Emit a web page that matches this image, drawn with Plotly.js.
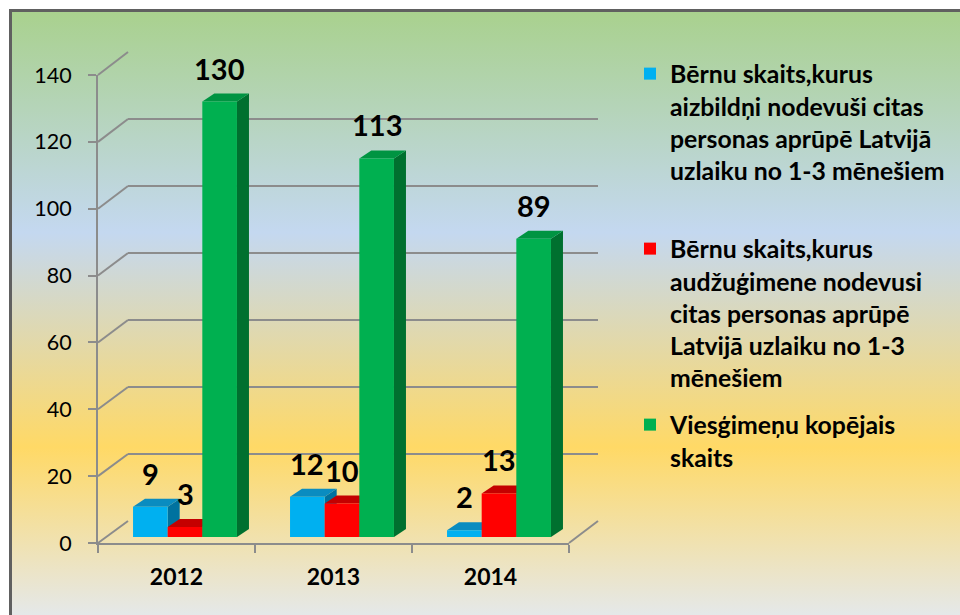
<!DOCTYPE html>
<html><head><meta charset="utf-8">
<script src="https://cdn.plot.ly/plotly-3.0.1.min.js"></script>
<style>
html,body{margin:0;padding:0;background:#fff;}
#wrap{position:relative;width:960px;height:615px;overflow:hidden;}
#bg{position:absolute;left:9px;top:9px;right:-10px;bottom:-10px;border-left:3px solid #606060;border-top:3px solid #606060;
background:linear-gradient(to bottom,#a9d18e 0%,#c4d8f0 36%,#ffd966 71%,#e3e9f1 100%);}
#chart{position:absolute;left:0;top:0;width:960px;height:615px;}
</style></head>
<body><div id="wrap"><div id="bg"></div><div id="chart"></div></div>
<script>
// ---- data ----
const categories = ['2012', '2013', '2014'];
const aizbildni = [9, 12, 2];
const audzugimene = [3, 10, 13];
const viesgimenes = [130, 113, 89];
const yTickVals = [0, 20, 40, 60, 80, 100, 120, 140];
const seriesNames = [
  'Bērnu skaits,kurus<br>aizbildņi nodevuši citas<br>personas aprūpē Latvijā<br>uzlaiku no 1-3 mēnešiem',
  'Bērnu skaits,kurus<br>audžuģimene nodevusi<br>citas personas aprūpē<br>Latvijā uzlaiku no 1-3<br>mēnešiem',
  'Viesģimeņu kopējais<br>skaits'
];

// ---- styling / geometry ----
const W = 960, H = 615;
const fx = p => p / W, fy = p => 1 - p / H;
const front = {x0: 98, x1: 569, y0: 543, y1: 75};
const back = {x0: 128, x1: 598, y0: 521, y1: 52};
const barBox = {x0: 106.5, x1: 577.5, y0: 537, y1: 68};
const yMax = 140;
const frontColors = ['#00b0f0', '#ff0000', '#00b050'];
const topColors = ['#0a8cc0', '#c40000', '#009442'];
const sideColors = ['#00729f', '#a00000', '#00702f'];
const gridColor = '#8c8c8c';
const bargap = 0.338;
const depthPx = {dx: 12, dy: 8};

const series = [aizbildni, audzugimene, viesgimenes];
const idx = categories.map((_, i) => i);
const legends = ['legend', 'legend2', 'legend3'];

const traces = series.map((vals, k) => ({
  type: 'bar', x: idx, y: vals, name: seriesNames[k],
  xaxis: 'x3', yaxis: 'y3', legend: legends[k],
  marker: {color: frontColors[k], line: {width: 0}},
  hoverinfo: 'skip'
}));
// invisible helpers so the back wall and front axes subplots exist
traces.unshift({type: 'scatter', x: categories, y: viesgimenes, xaxis: 'x2', yaxis: 'y2',
  mode: 'markers', marker: {opacity: 0}, showlegend: false, hoverinfo: 'skip'});
traces.unshift({type: 'scatter', x: idx, y: viesgimenes, xaxis: 'x', yaxis: 'y',
  mode: 'markers', marker: {opacity: 0}, showlegend: false, hoverinfo: 'skip'});

const w = (1 - bargap) / series.length;
const pxPerX = (barBox.x1 - barBox.x0) / categories.length;
const pxPerY = (barBox.y0 - barBox.y1) / yMax;
const dxU = depthPx.dx / pxPerX, dyU = depthPx.dy / pxPerY;

const shapes = [];
idx.forEach(i => {
  series.forEach((vals, k) => {
    const v = vals[i];
    const xl = i + (k - series.length / 2) * w;
    const xr = xl + w;
    shapes.push({type: 'path', xref: 'x3', yref: 'y3', layer: 'between',
      path: `M${xr},0 L${xr},${v} L${xr + dxU},${v + dyU} L${xr + dxU},${dyU} Z`,
      fillcolor: sideColors[k], line: {width: 0}});
    shapes.push({type: 'path', xref: 'x3', yref: 'y3', layer: 'between',
      path: `M${xl},${v} L${xr},${v} L${xr + dxU},${v + dyU} L${xl + dxU},${v + dyU} Z`,
      fillcolor: topColors[k], line: {width: 0}});
  });
});
// side-wall / floor diagonals joining front axis ticks to back wall gridlines
const fY = v => front.y0 - (front.y0 - front.y1) * v / yMax;
const bY = v => back.y0 - (back.y0 - back.y1) * v / yMax;
yTickVals.forEach(v => {
  shapes.push({type: 'line', xref: 'paper', yref: 'paper',
    x0: fx(front.x0), y0: fy(fY(v)), x1: fx(back.x0), y1: fy(bY(v)),
    line: {color: gridColor, width: 2}});
});
shapes.push({type: 'line', xref: 'paper', yref: 'paper',
  x0: fx(front.x1), y0: fy(front.y0), x1: fx(back.x1), y1: fy(back.y0),
  line: {color: gridColor, width: 2}});

const annotations = [];
series.forEach((vals, k) => {
  vals.forEach((v, i) => {
    annotations.push({x: i + (k - (series.length - 1) / 2) * w, y: v, xref: 'x3', yref: 'y3',
      text: String(v), showarrow: false, yanchor: 'bottom', xanchor: 'center', yshift: 14,
      font: {family: 'Lato', size: 29, color: '#000', weight: 700}});
  });
});

const legendBase = {xanchor: 'left', yanchor: 'top', valign: 'top', bgcolor: 'rgba(0,0,0,0)',
  borderwidth: 0, font: {family: 'Lato', size: 24.8, color: '#000', weight: 700}, itemclick: false, itemdoubleclick: false};

const layout = {
  width: W, height: H, margin: {l: 0, r: 0, t: 0, b: 0},
  paper_bgcolor: 'rgba(0,0,0,0)', plot_bgcolor: 'rgba(0,0,0,0)',
  font: {family: 'Lato', color: '#000'},
  hovermode: false, barmode: 'group', bargap: bargap, bargroupgap: 0,
  xaxis: {domain: [fx(back.x0), fx(back.x1)], range: [-0.5, 2.5], anchor: 'y',
    showgrid: false, zeroline: false, showline: false, showticklabels: false, ticks: ''},
  yaxis: {domain: [fy(back.y0), fy(back.y1)], range: [0, yMax], anchor: 'x',
    tickvals: yTickVals, showgrid: true, gridcolor: gridColor, gridwidth: 2,
    zeroline: false, showline: false, showticklabels: false, ticks: ''},
  xaxis2: {domain: [fx(front.x0), fx(front.x1)], anchor: 'y2', type: 'category',
    categoryorder: 'array', categoryarray: categories, range: [-0.5, 2.5],
    showline: true, linecolor: gridColor, linewidth: 2, ticks: 'outside', tickson: 'boundaries',
    ticklen: 8, tickwidth: 2, tickcolor: gridColor, showgrid: false, zeroline: false,
    tickfont: {family: 'Lato', size: 23, color: '#000', weight: 700}, ticklabelstandoff: 12},
  yaxis2: {domain: [fy(front.y0), fy(front.y1)], anchor: 'x2', range: [0, yMax],
    tickvals: yTickVals, showline: true, linecolor: gridColor, linewidth: 2, ticks: 'outside',
    ticklen: 8, tickwidth: 2, tickcolor: gridColor, showgrid: false, zeroline: false,
    tickfont: {family: 'Lato', size: 21.5, color: '#000'}, ticklabelstandoff: 12},
  xaxis3: {domain: [fx(barBox.x0), fx(barBox.x1)], range: [-0.5, 2.5], anchor: 'y3', visible: false},
  yaxis3: {domain: [fy(barBox.y0), fy(barBox.y1)], range: [0, yMax], anchor: 'x3', visible: false},
  legend: Object.assign({x: fx(630), y: fy(51)}, legendBase),
  legend2: Object.assign({x: fx(630), y: fy(226)}, legendBase),
  legend3: Object.assign({x: fx(630), y: fy(402)}, legendBase),
  shapes: shapes, annotations: annotations
};

Plotly.newPlot('chart', traces, layout, {staticPlot: true, displayModeBar: false});
</script>
</body></html>
